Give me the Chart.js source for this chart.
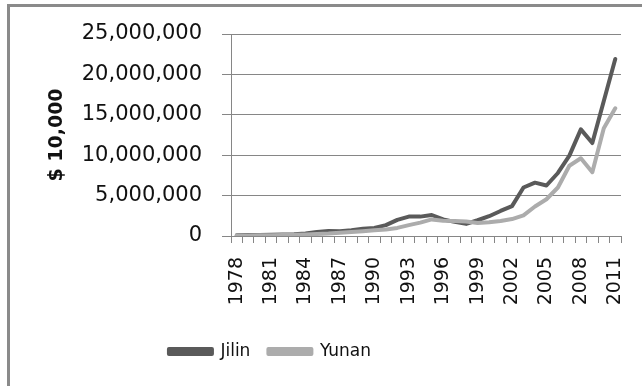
<!DOCTYPE html>
<html lang="en">
<head>
  <meta charset="UTF-8" />
  <title>Jilin vs Yunan</title>
  <script src="https://cdn.jsdelivr.net/npm/chart.js"></script>
  <style>
    html, body { margin: 0; padding: 0; background: #fff; }
    #frame {
      position: absolute; left: 7px; top: 4px; width: 640px; height: 390px;
      border-left: 3px solid #8a8a8a; border-top: 3px solid #8a8a8a;
    }
    #wrap { position: absolute; left: 0; top: 0; width: 642px; height: 386px; }
  </style>
</head>
<body>
  <div id="frame"></div>
  <div id="wrap"><canvas id="chart" width="642" height="386"></canvas></div>

  <script>
  // Years on the category axis
  const years = [1978, 1979, 1980, 1981, 1982, 1983, 1984, 1985, 1986, 1987,
                 1988, 1989, 1990, 1991, 1992, 1993, 1994, 1995, 1996, 1997,
                 1998, 1999, 2000, 2001, 2002, 2003, 2004, 2005, 2006, 2007,
                 2008, 2009, 2010, 2011];

  // Values in $10,000
  const jilin = [100000, 110000, 130000, 150000, 180000, 220000, 300000, 500000, 620000, 580000,
                 720000, 900000, 1000000, 1350000, 2000000, 2400000, 2400000, 2600000, 2050000, 1750000,
                 1500000, 1950000, 2450000, 3100000, 3700000, 6000000, 6600000, 6250000, 7800000, 9950000,
                 13200000, 11500000, 16700000, 21900000];

  const yunan = [50000, 60000, 80000, 100000, 120000, 150000, 200000, 250000, 300000, 400000,
                 500000, 600000, 700000, 800000, 1000000, 1350000, 1650000, 2050000, 1900000, 1850000,
                 1800000, 1600000, 1700000, 1850000, 2100000, 2550000, 3650000, 4550000, 6000000, 8700000,
                 9620000, 7900000, 13350000, 15800000];

  const yTicks = [0, 5000000, 10000000, 15000000, 20000000, 25000000];

  const gridGray = '#868686';

  // shift the legend so it sits where it does in the original
  const legendShift = {
    id: 'legendShift',
    afterLayout(chart) {
      chart.legend.left = 7;
      chart.legend.right = 533;
    }
  };

  const ctx = document.getElementById('chart').getContext('2d');
  new Chart(ctx, {
    type: 'line',
    data: {
      labels: years,
      datasets: [
        {
          label: 'Jilin',
          data: jilin,
          borderColor: '#5a5a5a',
          backgroundColor: '#5a5a5a',
          borderWidth: 4,
          pointRadius: 0,
          tension: 0,
          borderJoinStyle: 'round',
          borderCapStyle: 'round',
          order: 1
        },
        {
          label: 'Yunan',
          data: yunan,
          borderColor: '#acacac',
          backgroundColor: '#acacac',
          borderWidth: 4,
          pointRadius: 0,
          tension: 0,
          borderJoinStyle: 'round',
          borderCapStyle: 'round',
          order: 0
        }
      ]
    },
    options: {
      responsive: false,
      animation: false,
      layout: { padding: { left: 10, right: 21, top: 34, bottom: 16 } },
      plugins: {
        legend: {
          display: true,
          position: 'bottom',
          labels: {
            boxWidth: 43,
            boxHeight: 5,
            padding: 18,
            color: '#111',
            font: { family: 'DejaVu Sans', size: 17 },
            sort: (a, b) => a.datasetIndex - b.datasetIndex
          }
        },
        tooltip: { enabled: false }
      },
      scales: {
        x: {
          offset: true,
          grid: {
            offset: true,
            drawOnChartArea: false,
            color: gridGray,
            tickLength: 7
          },
          border: { color: gridGray, width: 1 },
          ticks: {
            autoSkip: false,
            maxRotation: 90,
            minRotation: 90,
            padding: 14,
            color: '#111',
            font: { family: 'DejaVu Sans', size: 19 },
            callback: (val, i) => (i % 3 === 0 ? String(years[i]) : '')
          },
          afterFit: (scale) => {
            scale.height = 89;
            scale.paddingLeft = 0;
            scale.paddingRight = 0;
          }
        },
        y: {
          min: 0,
          max: 25000000,
          afterBuildTicks: (scale) => { scale.ticks = yTicks.map(v => ({ value: v })); },
          grid: { color: gridGray, tickLength: 9 },
          border: { color: gridGray, width: 1 },
          ticks: {
            padding: 20,
            color: '#111',
            font: { family: 'DejaVu Sans', size: 21 },
            callback: (v) => Number(v).toLocaleString('en-US')
          },
          title: {
            display: true,
            text: '$ 10,000',
            color: '#111',
            padding: { top: 36, bottom: 0 },
            font: { family: 'DejaVu Sans', size: 19, weight: 'bold' }
          },
          afterFit: (scale) => { scale.width = 221; }
        }
      }
    },
    plugins: [legendShift]
  });
  </script>
</body>
</html>
